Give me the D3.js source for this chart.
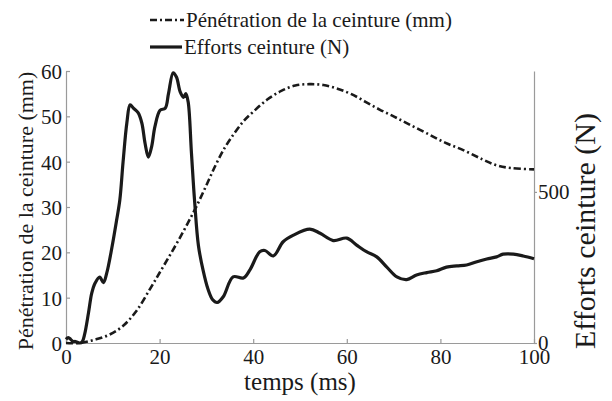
<!DOCTYPE html>
<html><head><meta charset="utf-8">
<script src="https://cdn.jsdelivr.net/npm/d3@7"></script>
<style>body{margin:0;background:#fff}svg{display:block}</style>
</head><body>
<svg id="c" width="612" height="401"></svg>
<script>
// ---- data ----
const penTime = [0,3,6,9,12,15,18,20,22,24,26,28,30,32,34,36,38,40,43,46,49,52,55,58,61,64,67,70,73,77,81,85,89,92,95,100];
const penMM   = [0,0,0.7,1.7,3.6,7,12,15.5,19,22.6,26.4,30.4,34.8,39.3,43.2,46.3,49,51,53.7,55.6,56.8,57.1,56.9,56.1,54.9,53.2,51.5,50,48.4,46.3,44.2,42.5,40.5,39.2,38.6,38.3];
const forceTime = [0,0.5,1,1.5,2,3,3.5,4,4.8,5.5,6.2,7.2,8,8.7,9.8,10.8,11.5,12.2,13,13.7,14.4,15.4,16.2,16.9,17.6,18.3,19,20.1,21.2,21.9,22.9,23.6,24.4,25.1,25.6,26.1,26.8,27.5,28.3,29.3,30.3,31.3,32.3,33.6,35.7,37.9,39.3,41.4,42.5,44.3,46.4,48.6,52.1,54.3,57.1,60,62.1,64.2,66.4,68.5,70.7,72.8,74.9,77.1,79.2,81.3,83.5,85.6,87.8,89.9,92,93.4,95.6,97.7,100];
const forceN = [12,18,12,5,5,0,5,30,99,165,198,218,200,231,315,405,473,600,728,788,777,762,728,660,615,650,716,770,777,825,894,880,831,813,825,798,630,465,322,240,180,144,134,153,219,215,242,302,306,288,335,357,377,363,339,347,324,302,285,252,219,210,225,233,239,251,255,258,269,278,285,294,294,288,279];
const xTicks = [0,20,40,60,80,100];
const yLeftTicks = [0,10,20,30,40,50,60];
const yRightTicks = [0,500];
const legendLabels = ["Pénétration de la ceinture (mm)","Efforts ceinture (N)"];
const xTitle = "temps (ms)", yLeftTitle = "Pénétration de la ceinture (mm)", yRightTitle = "Efforts ceinture (N)";

// ---- layout ----
const FONT = "Liberation Serif";
const L=66, R=534, T=71, B=343;
const svg = d3.select("#c");
const x = d3.scaleLinear().domain([0,100]).range([L,R]);
const yL = d3.scaleLinear().domain([0,60]).range([B,T]);
const yR = d3.scaleLinear().domain([0,900]).range([B,T]);
const axisCol = "#9a9a9a";
const ink = "#1a1a1a";

const gx = svg.append("g").attr("transform",`translate(0,${B})`)
  .call(d3.axisBottom(x).tickValues(xTicks).tickSizeInner(-4).tickSizeOuter(0).tickPadding(8));
const gl = svg.append("g").attr("transform",`translate(${L},0)`)
  .call(d3.axisLeft(yL).tickValues(yLeftTicks).tickSizeInner(-4).tickSizeOuter(0).tickPadding(4));
const gr = svg.append("g").attr("transform",`translate(${R},0)`)
  .call(d3.axisRight(yR).tickValues(yRightTicks).tickSizeInner(3).tickSizeOuter(0).tickPadding(1));
[gx,gl,gr].forEach(g=>{
  g.attr("font-family",FONT);
  g.select(".domain").attr("stroke",axisCol).attr("stroke-width",1.2);
  g.selectAll(".tick line").attr("stroke",axisCol).attr("stroke-width",1.2);
  g.selectAll(".tick text").attr("font-family",FONT).style("font-family",FONT).style("font-size","21px").attr("fill",ink);
});
gx.selectAll(".tick text").attr("dy","0.62em");
gl.selectAll(".tick text").attr("dy","0.36em");
gr.selectAll(".tick text").attr("dy","0.3em");

const line = (yScale)=>d3.line().x(d=>x(d[0])).y(d=>yScale(d[1])).curve(d3.curveCatmullRom.alpha(0.5));
svg.append("path").datum(penTime.map((t,i)=>[t,penMM[i]]))
  .attr("d",line(yL)).attr("fill","none").attr("stroke",ink).attr("stroke-width",2.6)
  .attr("stroke-dasharray","7,3,2,3");
svg.append("path").datum(forceTime.map((t,i)=>[t,forceN[i]]))
  .attr("d",line(yR)).attr("fill","none").attr("stroke",ink).attr("stroke-width",3.2)
  .attr("stroke-linejoin","round");

const txt = (sel,size)=>sel.attr("font-family",FONT).style("font-family",FONT).style("font-size",size+"px").attr("fill",ink);
txt(svg.append("text").attr("x",(L+R)/2).attr("y",390).attr("text-anchor","middle"),25).text(xTitle);
txt(svg.append("text").attr("transform",`translate(33,${(T+B)/2+4}) rotate(-90)`).attr("text-anchor","middle"),22).text(yLeftTitle);
txt(svg.append("text").attr("transform",`translate(595,231) rotate(-90)`).attr("text-anchor","middle"),30).text(yRightTitle);

const leg = svg.append("g");
leg.append("line").attr("x1",150).attr("x2",184).attr("y1",20).attr("y2",20)
  .attr("stroke",ink).attr("stroke-width",2.6).attr("stroke-dasharray","7,3,2,3");
txt(leg.append("text").attr("x",186).attr("y",27),21).text(legendLabels[0]);
leg.append("line").attr("x1",150).attr("x2",182).attr("y1",47).attr("y2",47)
  .attr("stroke",ink).attr("stroke-width",3.2);
txt(leg.append("text").attr("x",184).attr("y",54),21).text(legendLabels[1]);
</script>
</body></html>
